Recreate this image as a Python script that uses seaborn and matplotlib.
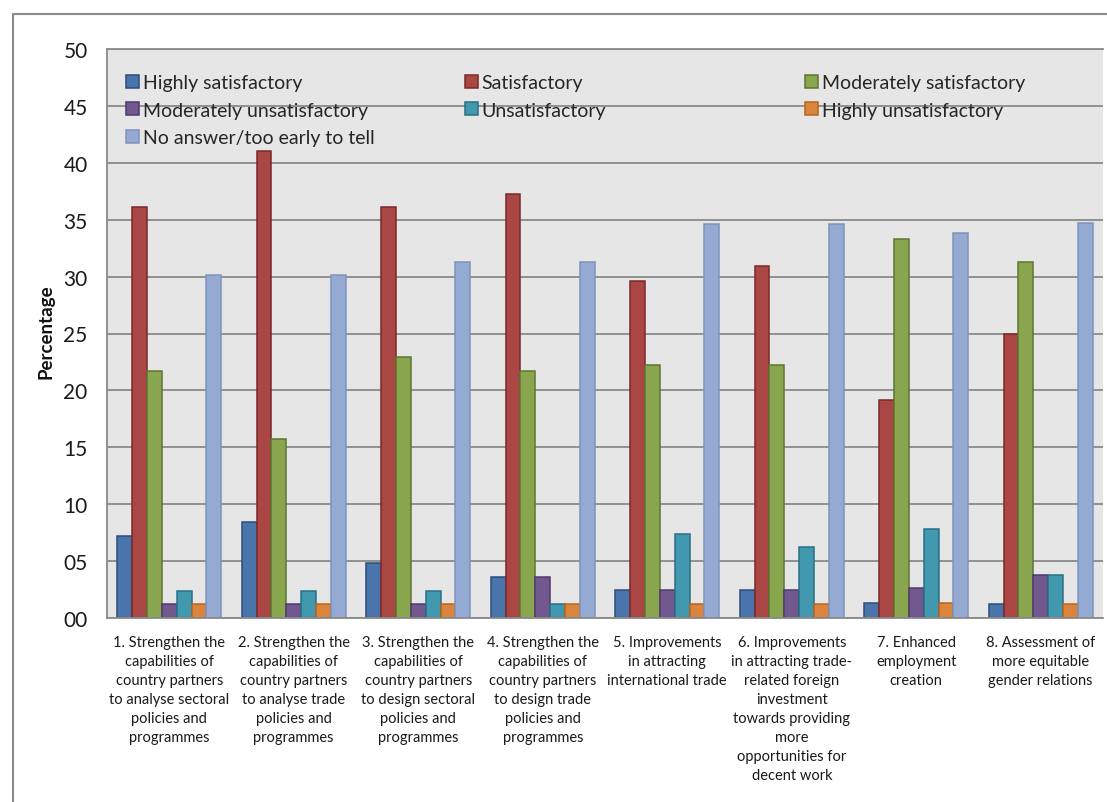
import matplotlib
matplotlib.use("Agg")
import matplotlib.pyplot as plt
from matplotlib.patches import Patch
from matplotlib.lines import Line2D
import pandas as pd
import seaborn as sns

# ---- data -------------------------------------------------------------
objectives = [
    "1. Strengthen the\ncapabilities of\ncountry partners\nto analyse sectoral\npolicies and\nprogrammes",
    "2. Strengthen the\ncapabilities of\ncountry partners\nto analyse trade\npolicies and\nprogrammes",
    "3. Strengthen the\ncapabilities of\ncountry partners\nto design sectoral\npolicies and\nprogrammes",
    "4. Strengthen the\ncapabilities of\ncountry partners\nto design trade\npolicies and\nprogrammes",
    "5. Improvements\nin attracting\ninternational trade",
    "6. Improvements\nin attracting trade-\nrelated foreign\ninvestment\ntowards providing\nmore\nopportunities for\ndecent work",
    "7. Enhanced\nemployment\ncreation",
    "8. Assessment of\nmore equitable\ngender relations",
]

ratings = [
    "Highly satisfactory",
    "Satisfactory",
    "Moderately satisfactory",
    "Moderately unsatisfactory",
    "Unsatisfactory",
    "Highly unsatisfactory",
    "No answer/too early to tell",
]

highly_satisfactory = [7.2, 8.4, 4.8, 3.6, 2.5, 2.5, 1.3, 1.2]
satisfactory = [36.1, 41.0, 36.1, 37.3, 29.6, 30.9, 19.2, 25.0]
moderately_satisfactory = [21.7, 15.7, 22.9, 21.7, 22.2, 22.2, 33.3, 31.3]
moderately_unsatisfactory = [1.2, 1.2, 1.2, 3.6, 2.5, 2.5, 2.6, 3.8]
unsatisfactory = [2.4, 2.4, 2.4, 1.2, 7.4, 6.2, 7.8, 3.8]
highly_unsatisfactory = [1.2, 1.2, 1.2, 1.2, 1.2, 1.2, 1.3, 1.2]
no_answer = [30.1, 30.1, 31.3, 31.3, 34.6, 34.6, 33.8, 34.7]

y_ticks = [0, 5, 10, 15, 20, 25, 30, 35, 40, 45, 50]
y_tick_labels = ["00", "05", "10", "15", "20", "25", "30", "35", "40", "45", "50"]

series = [
    highly_satisfactory,
    satisfactory,
    moderately_satisfactory,
    moderately_unsatisfactory,
    unsatisfactory,
    highly_unsatisfactory,
    no_answer,
]

df = pd.DataFrame(
    [
        {"objective": obj, "rating": rating, "pct": vals[i]}
        for rating, vals in zip(ratings, series)
        for i, obj in enumerate(objectives)
    ]
)

# ---- styling ----------------------------------------------------------
fills = ["#4A74AC", "#AA4644", "#89A54E", "#71588F", "#4198AF", "#DB843D", "#94AAD3"]
edges = ["#2C4D7A", "#7A2A28", "#5E7630", "#4F3B69", "#2A7085", "#B5651F", "#7F93B8"]
grid_grey = "#8a8a8a"

sns.set_style("white")
plt.rcParams["font.family"] = ["Lato", "DejaVu Sans"]

fig = plt.figure(figsize=(11.07, 8.03), dpi=100)
ax = fig.add_axes([107 / 1107, 1 - 619 / 803, 996 / 1107, 569 / 803])
ax.set_facecolor("#E6E6E6")

sns.barplot(
    data=df,
    x="objective",
    y="pct",
    hue="rating",
    order=objectives,
    hue_order=ratings,
    palette=fills,
    saturation=1,
    width=0.836,
    errorbar=None,
    linewidth=1.1,
    legend=False,
    ax=ax,
)
for cont, ec in zip(ax.containers, edges):
    for bar in cont:
        bar.set_edgecolor(ec)

# axes, ticks and grid
ax.set_ylim(0, 50)
ax.set_xlim(-0.5, len(objectives) - 0.5)
ax.set_yticks(y_ticks)
ax.set_yticklabels(y_tick_labels, fontsize=15, color="#1a1a1a")
ax.set_xticks(range(len(objectives)))
ax.set_xticklabels(objectives, fontsize=10.5, color="#1a1a1a")
for t in ax.get_xticklabels():
    t.set_linespacing(1.46)
ax.set_xticks([i - 0.5 for i in range(len(objectives) + 1)], minor=True)
ax.tick_params(axis="x", which="major", length=0, pad=12)
ax.tick_params(axis="x", which="minor", length=5, width=1.3, color=grid_grey, direction="out")
ax.tick_params(axis="y", which="major", length=5, width=1.3, color=grid_grey, direction="out", pad=9)
ax.set_xlabel("")
ax.set_ylabel("")
ax.set_axisbelow(True)
ax.yaxis.grid(True, color=grid_grey, linewidth=1.3)
for side in ["left", "bottom", "top"]:
    ax.spines[side].set_color(grid_grey)
    ax.spines[side].set_linewidth(1.3)
ax.spines["right"].set_visible(False)

fig.text(46 / 1107, 1 - 332 / 803, "Percentage", rotation=90, ha="center", va="center",
         fontsize=13.5, fontweight="bold", color="#111111")

# legend laid out in three columns, filled row by row
handles = [Patch(facecolor=f, edgecolor=e, linewidth=1.1) for f, e in zip(fills, edges)]
columns = [[0, 3, 6], [1, 4], [2, 5]]
col_x = [(126 - 107) / 996, (465 - 107) / 996, (805 - 107) / 996]
legends = []
for cols, x0 in zip(columns, col_x):
    leg = ax.legend(
        [handles[i] for i in cols],
        [ratings[i] for i in cols],
        loc="upper left",
        bbox_to_anchor=(x0, (619 - 75) / 569),
        frameon=False,
        fontsize=14,
        handlelength=0.66,
        handleheight=0.66,
        handletextpad=0.2,
        labelspacing=0.55,
        borderpad=0,
        borderaxespad=0,
    )
    legends.append(leg)
for leg in legends[:-1]:
    ax.add_artist(leg)

# outer chart frame (left and top edges)
frame = Line2D([13 / 1107, 13 / 1107, 1.0], [0.0, 1 - 15 / 803, 1 - 15 / 803],
               transform=fig.transFigure, color=grid_grey, linewidth=1.5)
fig.add_artist(frame)

fig.savefig("out.png", dpi=100)
